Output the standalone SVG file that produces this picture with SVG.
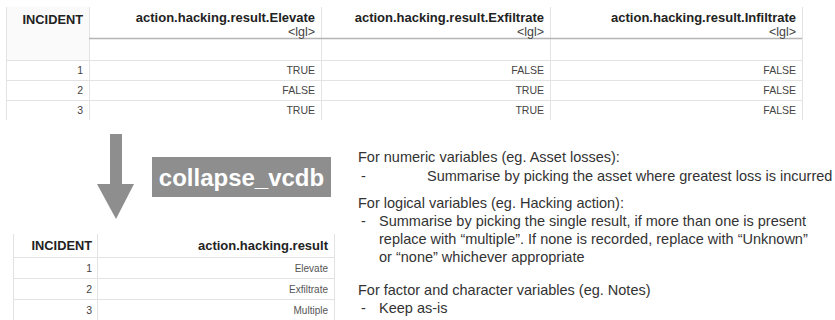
<svg xmlns="http://www.w3.org/2000/svg" width="835" height="320" viewBox="0 0 835 320">
<style>
text{font-family:"Liberation Sans",Arial,Helvetica,sans-serif}
.grid{stroke:#e3e3e3;stroke-width:1;fill:none}
.hline{stroke:#b5b5b5;stroke-width:1.5}
.hb{font-weight:bold;font-size:13px;fill:#222;text-anchor:end}
.hi{font-weight:bold;font-size:12.8px;fill:#222;text-anchor:end}
.typ{font-size:12.5px;fill:#444;text-anchor:end}
.d{font-size:10.5px;fill:#444;text-anchor:end}
.ds{font-size:10px;fill:#555;text-anchor:end}
.body{font-size:14.5px;fill:#333}
.lbl{font-weight:bold;font-size:24px;fill:#fff;text-anchor:middle}
</style>
<rect width="835" height="320" fill="#fff"/>

<g id="table-before">
  <rect x="6" y="7" width="83" height="53" fill="#fafafa"/>
  <path class="grid" d="M6.5 7V120M89.5 7V120M321.5 7V120M550.5 7V120M802.5 7V120M6 60.5H802M6 80.5H802M6 100.5H802"/>
  <line class="hline" x1="89" y1="38.5" x2="802" y2="38.5"/>
  <text class="hi" x="83" y="24">INCIDENT</text>
  <text class="hb" x="315" y="22">action.hacking.result.Elevate</text>
  <text class="hb" x="544" y="22">action.hacking.result.Exfiltrate</text>
  <text class="hb" x="796" y="22">action.hacking.result.Infiltrate</text>
  <text class="typ" x="315" y="36">&lt;lgl&gt;</text>
  <text class="typ" x="544" y="36">&lt;lgl&gt;</text>
  <text class="typ" x="796" y="36">&lt;lgl&gt;</text>
  <text class="d" x="83" y="74">1</text>
  <text class="d" x="83" y="94">2</text>
  <text class="d" x="83" y="114">3</text>
  <text class="d" x="315" y="74">TRUE</text>
  <text class="d" x="315" y="94">FALSE</text>
  <text class="d" x="315" y="114">TRUE</text>
  <text class="d" x="544" y="74">FALSE</text>
  <text class="d" x="544" y="94">TRUE</text>
  <text class="d" x="544" y="114">TRUE</text>
  <text class="d" x="796" y="74">FALSE</text>
  <text class="d" x="796" y="94">FALSE</text>
  <text class="d" x="796" y="114">FALSE</text>
</g>

<g id="connectors">
  <path d="M110 134H122V184H134L116 219L97 184H110Z" fill="#8e8e8e"/>
</g>

<g id="label-collapse">
  <rect x="152" y="157" width="179" height="40" fill="#8e8e8e"/>
  <text class="lbl" x="241.5" y="186">collapse_vcdb</text>
</g>

<g id="table-after">
  <path class="grid" d="M13.5 234V320M97.5 234V320M334.5 234V320M13 257.5H334M13 278.5H334M13 299.5H334"/>
  <text class="hi" x="92" y="250">INCIDENT</text>
  <text class="hb" x="328" y="250">action.hacking.result</text>
  <text class="d" x="92" y="272">1</text>
  <text class="d" x="92" y="293">2</text>
  <text class="d" x="92" y="314">3</text>
  <text class="ds" x="328" y="272">Elevate</text>
  <text class="ds" x="328" y="293">Exfiltrate</text>
  <text class="ds" x="328" y="314">Multiple</text>
</g>

<g id="notes">
  <text class="body" x="358" y="162">For numeric variables (eg. Asset losses):</text>
  <text class="body" x="361" y="181">-</text>
  <text class="body" x="427" y="181">Summarise by picking the asset where greatest loss is incurred</text>
  <text class="body" x="358" y="208">For logical variables (eg. Hacking action):</text>
  <text class="body" x="361" y="226">-</text>
  <text class="body" x="379" y="226">Summarise by picking the single result, if more than one is present</text>
  <text class="body" x="379" y="244">replace with “multiple”. If none is recorded, replace with “Unknown”</text>
  <text class="body" x="379" y="262">or “none” whichever appropriate</text>
  <text class="body" x="358" y="295">For factor and character variables (eg. Notes)</text>
  <text class="body" x="361" y="313">-</text>
  <text class="body" x="379" y="313">Keep as-is</text>
</g>
</svg>
